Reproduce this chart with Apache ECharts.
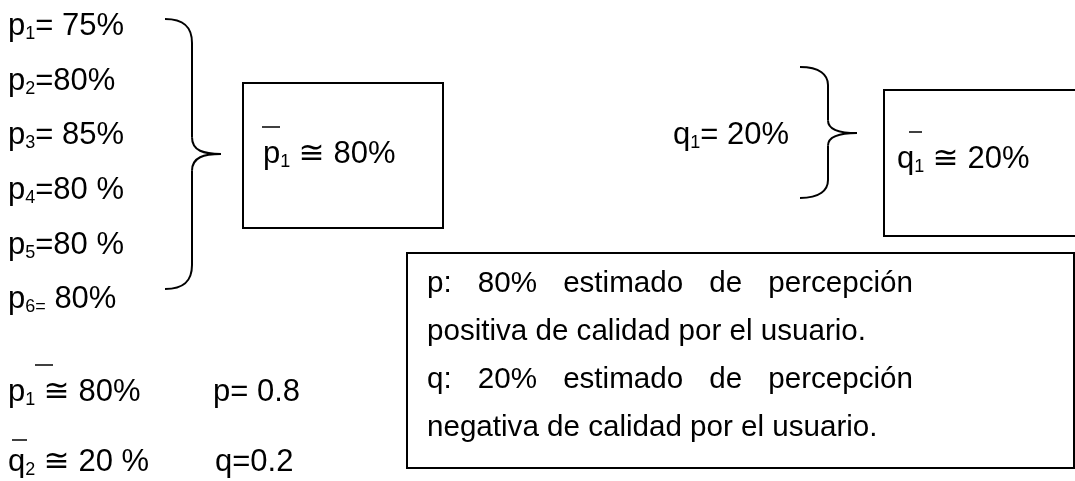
<!DOCTYPE html>
<html><head><meta charset="utf-8">
<script src="https://cdn.jsdelivr.net/npm/echarts@6/dist/echarts.min.js"></script>
<style>html,body{margin:0;padding:0;background:#fff}#c{width:1075px;height:481px}</style>
</head><body><div id="c"></div>
<script>
// ---- data ----
const pSubs = ['1', '2', '3', '4', '5', '6='];
const pTexts = ['= 75%', '=80%', '= 85%', '=80 %', '=80 %', ' 80%'];
const pMean = { sym: 'p', sub: '1', text: ' \u2245 80%' };
const qSingle = { sym: 'q', sub: '1', text: '= 20%' };
const qMean = { sym: 'q', sub: '1', text: ' \u2245 20%' };
const summaryP = { sym: 'p', sub: '1', text: ' \u2245 80%', prob: 'p= 0.8' };
const summaryQ = { sym: 'q', sub: '2', text: ' \u2245 20 %', prob: 'q=0.2' };
const legendLines = [
  { words: ['p:', '80%', 'estimado', 'de', 'percepción'], justify: true },
  { words: ['positiva de calidad por el usuario.'], justify: false },
  { words: ['q:', '20%', 'estimado', 'de', 'percepción'], justify: true },
  { words: ['negativa de calidad por el usuario.'], justify: false }
];

// ---- rendering ----
const FONT = "'Liberation Sans', Arial, 'DejaVu Sans', sans-serif";
const MAIN = 31, SUB = 18;
const rich = {
  m: { fontSize: MAIN, fontFamily: FONT, color: '#000', lineHeight: 34 },
  s: { fontSize: SUB, fontFamily: FONT, color: '#000', lineHeight: 24, verticalAlign: 'bottom' }
};
function sub(sym, s, rest) { return '{m|' + sym + '}{s|' + s + '}{m|' + rest + '}'; }
function richText(x, yBase, str) {
  return { type: 'text', x: x, y: yBase - 8, style: { text: str, rich: rich, align: 'left', verticalAlign: 'middle', fill: '#000' } };
}
function line(x1, y1, x2, y2, w) { return { type: 'line', shape: { x1, y1, x2, y2 }, style: { stroke: '#000', lineWidth: w || 2 } }; }
function bez(x1, y1, c1x, c1y, c2x, c2y, x2, y2) {
  return { type: 'bezierCurve', shape: { x1, y1, cpx1: c1x, cpy1: c1y, cpx2: c2x, cpy2: c2y, x2, y2 }, style: { stroke: '#000', lineWidth: 2, fill: null } };
}
function brace(xl, xv, xt, yTop, yTip, yBot, r) {
  return [
    bez(xl, yTop, xv - 8, yTop, xv, yTop + 8, xv, yTop + r),
    line(xv, yTop + r, xv, yTip - r * 0.7),
    bez(xv, yTip - r * 0.7, xv, yTip - 3, xv + 12, yTip, xt, yTip),
    bez(xt, yTip, xv + 12, yTip, xv, yTip + 3, xv, yTip + r * 0.7),
    line(xv, yTip + r * 0.7, xv, yBot - r),
    bez(xv, yBot - r, xv, yBot - 8, xv - 8, yBot, xl, yBot)
  ];
}
function rect(x, y, w, h) { return { type: 'rect', shape: { x, y, width: w, height: h }, style: { stroke: '#000', lineWidth: 2, fill: null } }; }

const els = [];
const pBase = [34, 89, 143, 198, 253, 307];
pSubs.forEach((s, i) => els.push(richText(8, pBase[i], sub('p', s, pTexts[i]))));
els.push(...brace(165, 192, 221, 19, 154, 289, 24));
els.push(rect(243, 83, 200, 145));
els.push(richText(263, 162, sub(pMean.sym, pMean.sub, pMean.text)));
els.push(line(262, 127, 280, 127, 1.5));

els.push(richText(673, 143, sub(qSingle.sym, qSingle.sub, qSingle.text)));
els.push(...brace(800, 828, 857, 67, 133, 198, 18));
els.push(rect(884, 90, 240, 146));
els.push(richText(897, 167, sub(qMean.sym, qMean.sub, qMean.text)));
els.push(line(909, 132, 922, 132, 1.5));

els.push(richText(8, 400, sub(summaryP.sym, summaryP.sub, summaryP.text)));
els.push(line(35, 365, 53, 365, 1.5));
els.push(richText(213, 400, '{m|' + summaryP.prob + '}'));
els.push(richText(8, 470, sub(summaryQ.sym, summaryQ.sub, summaryQ.text)));
els.push(line(12, 440, 27, 440, 1.5));
els.push(richText(215, 470, '{m|' + summaryQ.prob + '}'));

// legend box
els.push(rect(407, 253, 667, 215));
const LF = 30;
const ctx = document.createElement('canvas').getContext('2d');
ctx.font = LF + 'px ' + FONT;
const line2W = ctx.measureText(legendLines[1].words[0]).width;
const SX = 439 / line2W;
const LX = 427, LR = 913;
const lMid = [284, 332, 380, 428];
legendLines.forEach((ln, i) => {
  const ws = ln.words.map(w => ctx.measureText(w).width * SX);
  let gap = 0;
  if (ln.justify && ws.length > 1) {
    const tot = ws.reduce((a, b) => a + b, 0);
    gap = (LR - LX - tot) / (ws.length - 1);
  }
  let x = LX;
  ln.words.forEach((w, j) => {
    els.push({ type: 'text', x: x, y: lMid[i], scaleX: SX, style: { text: w, font: LF + 'px ' + FONT, fill: '#000', align: 'left', verticalAlign: 'middle' } });
    x += ws[j] + gap;
  });
});

const chart = echarts.init(document.getElementById('c'), null, { renderer: 'canvas' });
chart.setOption({ backgroundColor: '#fff', animation: false, graphic: { elements: els } });
</script></body></html>
